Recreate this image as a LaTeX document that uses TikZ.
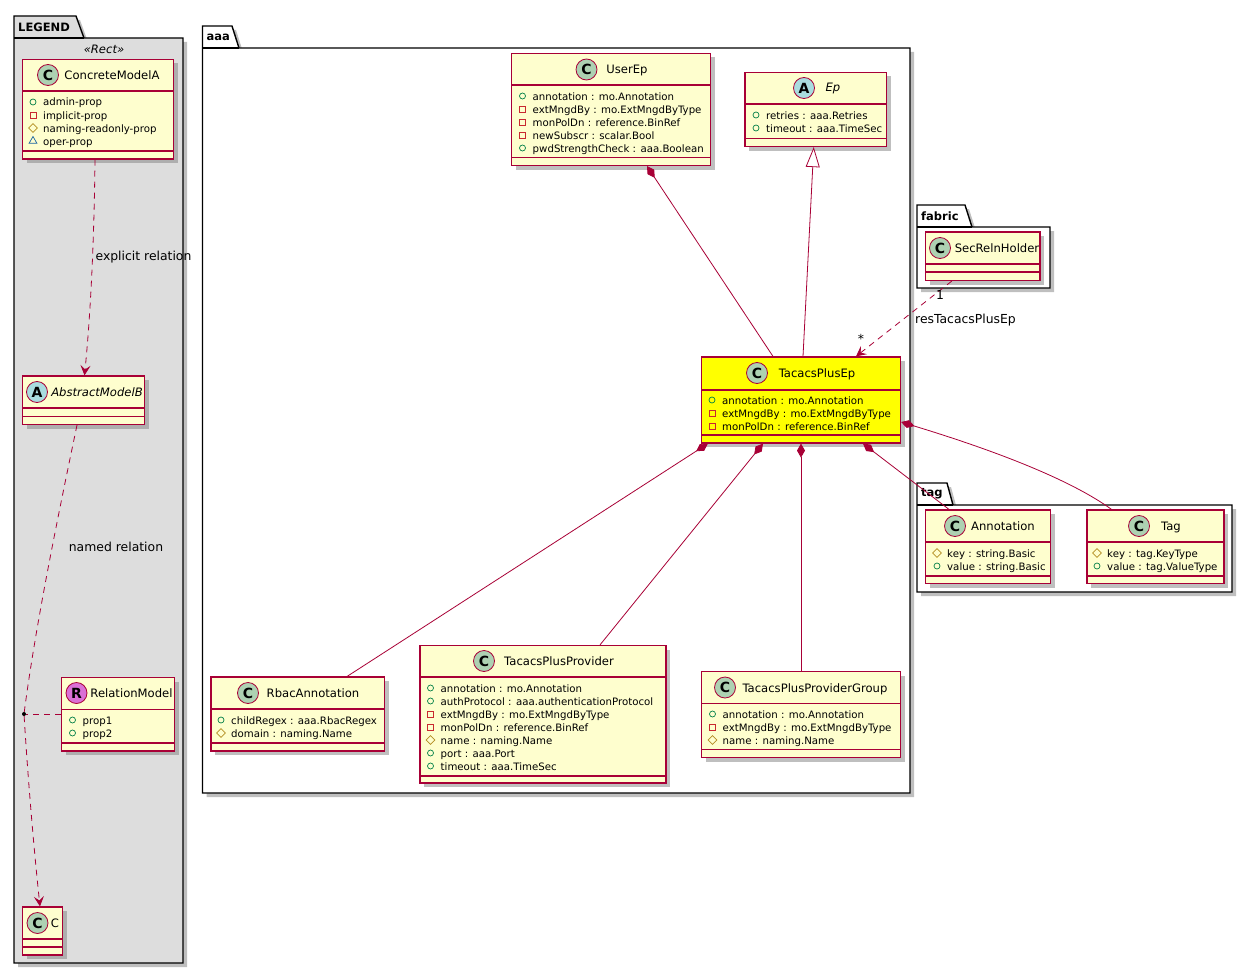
\documentclass[tikz,border=0pt]{standalone}
\usepackage{fontspec}
\setmainfont{DejaVu Sans}
\usepackage{xcolor}
\usetikzlibrary{positioning,arrows.meta,fit,calc,shadows,shapes.geometric}
\definecolor{rel}{HTML}{A80036}
\definecolor{classbg}{HTML}{FEFECE}
\definecolor{focusbg}{HTML}{FFFF00}
\definecolor{legendbg}{HTML}{DDDDDD}
\definecolor{badgeC}{HTML}{ADD1B2}
\definecolor{badgeA}{HTML}{A9DCDF}
\definecolor{badgeR}{HTML}{DA70D6}
\definecolor{pubcol}{HTML}{038048}
\definecolor{privcol}{HTML}{C82930}
\definecolor{protcol}{HTML}{B38D22}
\definecolor{pkgcol}{HTML}{1963A0}

\tikzset{
  softshadow/.style={drop shadow={shadow xshift=4pt,shadow yshift=-4pt,opacity=.5,fill=black!50}},
  pkgbox/.style={draw=black,line width=1.4pt,softshadow},
  pkgname/.style={font=\fontsize{11.5}{13}\selectfont\bfseries,inner sep=0pt,anchor=west},
  classbox/.style={draw=rel,line width=1.2pt,fill=classbg,inner sep=0pt,softshadow},
  sepline/.style={draw=rel,line width=1.2pt},
  badge/.style={circle,draw=rel,line width=.8pt,minimum size=21pt,inner sep=0pt,font=\fontsize{14}{14}\selectfont\bfseries},
  titletxt/.style={font=\fontsize{11.6}{13}\selectfont,inner sep=0pt,text height=9pt,text depth=3pt,yshift=-1pt},
  italtxt/.style={titletxt,font=\fontsize{11.6}{13}\selectfont\itshape},
  membtxt/.style={font=\fontsize{10.2}{11}\selectfont,inner sep=0pt,anchor=west,text height=8pt,text depth=3pt,yshift=-1.5pt},
  lbl/.style={font=\fontsize{12.4}{14}\selectfont,inner sep=0pt,text height=9pt,text depth=3pt,yshift=-.5pt},
  pub/.style={circle,draw=pubcol,line width=.7pt,minimum size=6pt,inner sep=0pt},
  priv/.style={rectangle,draw=privcol,line width=.8pt,minimum size=6pt,inner sep=0pt},
  prot/.style={diamond,draw=protcol,line width=.7pt,minimum size=9pt,inner sep=0pt},
  pack/.style={regular polygon,regular polygon sides=3,draw=pkgcol,line width=.7pt,minimum size=9pt,inner sep=0pt},
  conn/.style={draw=rel,line width=.8pt},
  dashline/.style={conn,dash pattern=on 6pt off 5pt},
  dep/.style={dashline,-{Stealth[length=10pt,width=10pt,inset=4pt]}},
  comp/.style={conn,{Diamond[length=14pt,width=8pt]}-},
  inherit/.style={conn,{Triangle[open,length=20pt,width=14pt,fill=white]}-},
  legendpkg/.style={pkgbox,fill=legendbg},
  plainpkg/.style={pkgbox,fill=white}
}

% package: style, left, top, right, bottom, tab top, tab right at top, tab right at bottom, name
\newcommand{\umlpkg}[9]{
  \draw[#1] ({#2},{#3}) -- ({#2},{#6}) -- ({#7},{#6}) -- ({#8},{#3}) -- ({#4},{#3}) -- ({#4},{#5}) -- ({#2},{#5}) -- cycle;
  \draw[draw=black,line width=1.4pt] ({#2},{#3}) -- ({#8},{#3});
  \node[pkgname] (#9) at ({#2+4},{(#3+#6)/2}) {#9};
}
% class frame: id, left, top, right, bottom, first and second divider
\newcommand{\umlclass}[7]{
  \coordinate (#1-a) at (#2,#3);
  \coordinate (#1-b) at (#4,#5);
  \node[classbox,fit=(#1-a)(#1-b)] (#1) {};
  \draw[sepline] (#2,#6) -- (#4,#6);
  \draw[sepline] (#2,#7) -- (#4,#7);
}
% members: id, x of icon, y of first row, list kind/text
\newcommand{\members}[4]{
  \foreach \k/\t [count=\i from 0] in {#4} {
    \node[\k] (#1-k\i) at ({#2},{#3+13*\i}) {};
    \node[membtxt] (#1-m\i) at ({#2+10},{#3+13*\i}) {\t};
  }
}

\begin{document}
\begin{tikzpicture}[x=1pt,y=-1pt]
  \useasboundingbox (0,0) rectangle (1253,974);

  \umlpkg{legendpkg}{14}{38}{183}{963}{16}{76}{84}{LEGEND}
  \umlpkg{plainpkg}{202.5}{48}{910}{793}{26}{232}{239}{aaa}
  \umlpkg{plainpkg}{917}{227}{1050}{288}{205}{965}{972}{fabric}
  \umlpkg{plainpkg}{917}{505}{1232}{592}{483}{947}{953}{tag}

  \node[italtxt] (rectnote) at (104,50) {«Rect»};

  % legend classes
  \umlclass{concrete}{22.5}{59.5}{173.5}{159}{91}{151}
  \node[badge,fill=badgeC] (concrete-c) at (48,75) {C};
  \node[titletxt] (concrete-t) at (112,75) {ConcreteModelA};
  \members{concrete}{33}{102}{pub/admin-prop,priv/implicit-prop,prot/naming-readonly-prop,pack/oper-prop}

  \umlclass{abstractb}{22.5}{376}{144.5}{424.5}{408}{416.5}
  \node[badge,fill=badgeA] (abstractb-c) at (37,392) {A};
  \node[italtxt] (abstractb-t) at (97,392) {AbstractModelB};

  \umlclass{relmodel}{61.5}{677.5}{174.5}{751}{709.5}{743}
  \node[badge,fill=badgeR] (relmodel-c) at (76.5,693) {R};
  \node[titletxt] (relmodel-t) at (131.5,693) {RelationModel};
  \members{relmodel}{72.5}{720}{pub/prop1,pub/prop2}

  \umlclass{cmodel}{22.5}{907}{62.5}{955}{939}{947}
  \node[badge,fill=badgeC] (cmodel-c) at (37.5,923) {C};
  \node[titletxt] (cmodel-t) at (55,923) {C};

  % aaa
  \umlclass{userep}{511.5}{53.5}{710.5}{165.5}{85}{157.5}
  \node[badge,fill=badgeC] (userep-c) at (586.5,69.5) {C};
  \node[titletxt] (userep-t) at (627,69.5) {UserEp};
  \members{userep}{522.5}{96}{pub/annotation : mo.Annotation,priv/extMngdBy : mo.ExtMngdByType,priv/monPolDn : reference.BinRef,priv/newSubscr : scalar.Bool,pub/pwdStrengthCheck : aaa.Boolean}

  \umlclass{ep}{745}{72.5}{886.5}{146.5}{104}{138.5}
  \node[badge,fill=badgeA] (ep-c) at (804,88) {A};
  \node[italtxt] (ep-t) at (833,88) {Ep};
  \members{ep}{756}{115}{pub/retries : aaa.Retries,pub/timeout : aaa.TimeSec}

  \coordinate (tacacs-a) at (701.5,357);
  \coordinate (tacacs-b) at (900.5,443);
  \node[classbox,fill=focusbg,fit=(tacacs-a)(tacacs-b)] (tacacs) {};
  \draw[sepline] (701.5,390) -- (900.5,390);
  \draw[sepline] (701.5,435) -- (900.5,435);
  \node[badge,fill=badgeC] (tacacs-c) at (757,373) {C};
  \node[titletxt] (tacacs-t) at (817,373.5) {TacacsPlusEp};
  \members{tacacs}{712}{400}{pub/annotation : mo.Annotation,priv/extMngdBy : mo.ExtMngdByType,priv/monPolDn : reference.BinRef}

  \umlclass{rbac}{211}{677}{384.5}{751}{709}{743}
  \node[badge,fill=badgeC] (rbac-c) at (248,693) {C};
  \node[titletxt] (rbac-t) at (313,693.5) {RbacAnnotation};
  \members{rbac}{221}{720}{pub/childRegex : aaa.RbacRegex,prot/domain : naming.Name}

  \umlclass{provider}{420}{645.5}{666}{783}{677}{776}
  \node[badge,fill=badgeC] (provider-c) at (484,661) {C};
  \node[titletxt] (provider-t) at (559,661.5) {TacacsPlusProvider};
  \members{provider}{430.5}{688}{pub/annotation : mo.Annotation,pub/authProtocol : aaa.authenticationProtocol,priv/extMngdBy : mo.ExtMngdByType,priv/monPolDn : reference.BinRef,prot/name : naming.Name,pub/port : aaa.Port,pub/timeout : aaa.TimeSec}

  \umlclass{provgroup}{701.5}{671.5}{900.5}{757.5}{703.5}{749.5}
  \node[badge,fill=badgeC] (provgroup-c) at (725,687.5) {C};
  \node[titletxt] (provgroup-t) at (815,688) {TacacsPlusProviderGroup};
  \members{provgroup}{712.5}{714}{pub/annotation : mo.Annotation,priv/extMngdBy : mo.ExtMngdByType,prot/name : naming.Name}

  % fabric
  \umlclass{secreln}{925.5}{232}{1040}{280.5}{264}{272}
  \node[badge,fill=badgeC] (secreln-c) at (940,248) {C};
  \node[titletxt] (secreln-t) at (997,248.5) {SecRelnHolder};

  % tag
  \umlclass{annot}{925.5}{510}{1050.5}{583.5}{542}{576}
  \node[badge,fill=badgeC] (annot-c) at (955,526) {C};
  \node[titletxt] (annot-t) at (1003,526.5) {Annotation};
  \members{annot}{937}{553}{prot/key : string.Basic,pub/value : string.Basic}

  \umlclass{tagc}{1087}{510}{1224}{583.5}{542}{576}
  \node[badge,fill=badgeC] (tagc-c) at (1139,526) {C};
  \node[titletxt] (tagc-t) at (1171,526.5) {Tag};
  \members{tagc}{1097}{553}{prot/key : tag.KeyType,pub/value : tag.ValueType}

  % relation point
  \node[circle,fill=black,minimum size=4pt,inner sep=0pt] (relpt) at (24,714) {};

  \draw[dep] ([xshift=-3pt]concrete.south) .. controls (94,250) and (90,320) .. ([xshift=1pt]abstractb.north);
  \draw[dashline] ([xshift=-6.5pt]abstractb.south) .. controls (55,530) and (35,630) .. (relpt);
  \draw[dep] (relpt) .. controls (28,780) and (34,850) .. ([xshift=-2.5pt]cmodel.north);
  \draw[dashline] (relmodel.west |- relpt) -- (relpt);

  \draw[comp] ([xshift=36pt]userep.south) -- ([xshift=-28pt]tacacs.north);
  \draw[inherit] ([xshift=-2pt]ep.south) -- ([xshift=2pt]tacacs.north);
  \draw[dep] ([xshift=-31pt]secreln.south) -- ([xshift=55pt]tacacs.north);
  \draw[comp] ([xshift=7pt]tacacs.south west) -- ([xshift=-38pt]rbac.north east);
  \draw[comp] ([xshift=-38pt]tacacs.south) -- ([xshift=57pt]provider.north);
  \draw[comp] (tacacs.south) -- (provgroup.north);
  \draw[comp] ([xshift=62pt]tacacs.south) -- ([xshift=-39pt]annot.north);
  \draw[comp] ([yshift=-22pt]tacacs.east) .. controls (960,440) and (1060,472) .. ([xshift=-44pt]tagc.north);

  \node[lbl] (explicitlbl) at (143.5,257) {explicit relation};
  \node[lbl] (namedlbl) at (116,548) {named relation};
  \node[lbl] (onelbl) at (940,296) {1};
  \node[lbl] (rolelbl) at (965.5,320) {resTacacsPlusEp};
  \node[lbl] (manylbl) at (861,340) {*};
\end{tikzpicture}
\end{document}
